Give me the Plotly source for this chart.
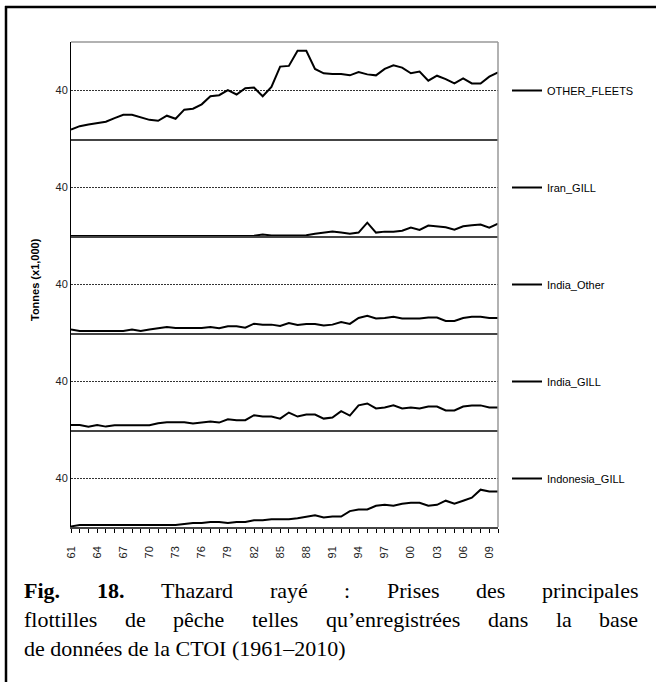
import plotly.graph_objects as go
from plotly.subplots import make_subplots

# Years on the x axis
years = list(range(1961, 2011))

# Catches (x1,000 t), one list per fleet
other_fleets = [7.8, 10.6, 12, 13.3, 14.2, 17.2, 20, 20, 18, 15.8,
                15, 19.2, 16.7, 24.2, 25, 28.6, 35.3, 36.1, 40.3, 36.7,
                41.9, 42.5, 35.3, 43, 59.7, 60.3, 72.8, 72.8, 57.8, 54.2,
                53.6, 53.6, 52.5, 55.3, 53.3, 52.5, 57.8, 60.8, 58.9, 54.2,
                55.6, 48.1, 52.2, 49.4, 45.8, 50, 45.8, 45.8, 51.4, 55]
iran_gill = [0] * 21 + [0.3, 1.2, 0.5, 0.5, 0.5, 0.6, 0.6, 1.9, 2.8, 3.6,
                        2.8, 1.9, 2.8, 11, 2.8, 3.6, 3.6, 4.4, 6.9, 5,
                        8.6, 8, 7.2, 5.2, 8, 8.8, 9.4, 6.9, 10.2]
india_other = [2.8, 1.7, 1.7, 1.7, 1.7, 1.7, 1.7, 2.8, 1.7, 2.8,
               3.9, 5, 4.1, 4.1, 4.1, 4.1, 5, 3.9, 5.5, 5.5,
               4.4, 7.7, 6.9, 6.9, 5.8, 8.3, 6.6, 7.5, 7.5, 6.1,
               6.9, 9.1, 7.5, 12.4, 14.1, 11.9, 12.4, 13.3, 11.9, 11.9,
               11.9, 12.7, 12.7, 9.9, 9.9, 12.4, 13.3, 13.3, 12.4, 12.4]
india_gill = [4.2, 4.2, 2.8, 4.2, 2.8, 3.9, 3.9, 3.9, 3.9, 3.9,
              5.6, 6.4, 6.4, 6.4, 5.3, 6.1, 6.9, 6.1, 8.9, 8.1,
              8.1, 12.2, 11.1, 11.1, 9.4, 14.4, 11.1, 12.8, 12.8, 9.4,
              10.3, 15.6, 11.9, 20.3, 21.9, 17.8, 18.6, 20.3, 17.8, 18.6,
              17.8, 19.4, 19.4, 16.1, 16.1, 19.4, 20.3, 20.3, 18.6, 18.6]
indonesia_gill = [0.5, 1.7, 1.7, 1.7, 1.7, 1.7, 1.7, 1.7, 1.7, 1.7,
                  1.7, 1.7, 1.7, 2.5, 3.3, 3.3, 4.2, 4.2, 3.3, 4.2,
                  4.2, 5.6, 5.6, 6.4, 6.4, 6.4, 7.2, 8.6, 9.7, 7.8,
                  8.6, 8.6, 13.1, 14.4, 14.4, 17.5, 18.3, 17.5, 19.2, 20,
                  20, 17.5, 18.3, 21.7, 19.2, 21.7, 24.2, 30.8, 29.2, 29.2]

fleet_names = ["OTHER_FLEETS", "Iran_GILL", "India_Other", "India_GILL", "Indonesia_GILL"]
fleet_values = [other_fleets, iran_gill, india_other, india_gill, indonesia_gill]

# x tick labels: every third year, two digits
tick_text = [str(y)[2:] if (y - 1961) % 3 == 0 else "" for y in years]

W, H = 656, 682
L, R, T, B = 71, 498, 42, 527


def px_x(px):
    return (px - L) / (R - L)


def px_y(py):
    return (B - py) / (B - T)


sans = "Arial, Liberation Sans, sans-serif"
serif = "Times New Roman, Liberation Serif, serif"

fig = make_subplots(rows=5, cols=1, shared_xaxes=True, vertical_spacing=0)

for i, (name, vals) in enumerate(zip(fleet_names, fleet_values)):
    leg = "legend" if i == 0 else f"legend{i + 1}"
    fig.add_trace(go.Scatter(x=years, y=vals, mode="lines", name=name,
                             line=dict(color="black", width=2),
                             legend=leg), row=i + 1, col=1)
    fig.update_yaxes(range=[0, 80], tickvals=[40], ticktext=["40"],
                     showgrid=True, gridcolor="#333", gridwidth=1,
                     griddash="2px,1px", zeroline=False,
                     showline=True, linecolor="black", linewidth=1,
                     ticks="", tickfont=dict(family=sans, size=11, color="#222"),
                     fixedrange=True, row=i + 1, col=1)
    fig.update_xaxes(range=[1961, 2010], showgrid=False, zeroline=False,
                     showline=True, linecolor="#444", linewidth=1.5,
                     tickvals=years, ticktext=tick_text,
                     ticks="outside" if i == 4 else "", ticklen=4,
                     tickcolor="black", tickwidth=1,
                     showticklabels=(i == 4), tickangle=-90,
                     ticklabelstandoff=9 if i == 4 else 0,
                     tickfont=dict(family=sans, size=11, color="#222"),
                     row=i + 1, col=1)

# one legend per panel, at the level of the dotted line
legends = {}
for i in range(5):
    key = "legend" if i == 0 else f"legend{i + 1}"
    legends[key] = dict(x=px_x(507), xanchor="left",
                        y=(4 - i) / 5 + 0.1, yanchor="middle",
                        bgcolor="rgba(0,0,0,0)", borderwidth=0,
                        font=dict(family=sans, size=11, color="black"),
                        itemwidth=30)

fig.update_layout(**legends)

shapes = [
    # gray frame top and right of the plot area
    dict(type="line", xref="paper", yref="paper", x0=0, x1=1, y0=1, y1=1,
         line=dict(color="#999", width=1.5)),
    dict(type="line", xref="paper", yref="paper", x0=1, x1=1, y0=0, y1=1,
         line=dict(color="#999", width=1.5)),
    # black page border, top and left
    dict(type="line", xref="paper", yref="paper", x0=px_x(5), x1=px_x(660),
         y0=px_y(7), y1=px_y(7), line=dict(color="black", width=2.5)),
    dict(type="line", xref="paper", yref="paper", x0=px_x(6), x1=px_x(6),
         y0=px_y(6), y1=px_y(690), line=dict(color="black", width=2.5)),
]

annotations = [
    dict(text="<b>Tonnes (x1,000)</b>", textangle=-90, xref="paper", yref="paper",
         x=px_x(35), y=px_y(280), xanchor="center", yanchor="middle",
         showarrow=False, font=dict(family=sans, size=11, color="black")),
]

# caption, justified: first two lines word by word, last line flush left
cap_size = 22
line1_words = ["<b>Fig.</b>", "<b>18.</b>", "Thazard", "rayé", ":", "Prises", "des", "principales"]
line1_x = [22, 95, 159, 268, 342, 385, 474, 540]
line2_words = ["flottilles", "de", "pêche", "telles", "qu’enregistrées", "dans", "la", "base"]
line2_x = [22, 123, 171, 250, 324, 486, 554, 597]
line3 = "de données de la CTOI (1961–2010)"

for words, xs, yp in [(line1_words, line1_x, 590), (line2_words, line2_x, 619)]:
    for w, xp in zip(words, xs):
        annotations.append(dict(text=w, xref="paper", yref="paper", x=px_x(xp), y=px_y(yp),
                                xanchor="left", yanchor="middle", showarrow=False,
                                font=dict(family=serif, size=cap_size, color="black")))
annotations.append(dict(text=line3, xref="paper", yref="paper", x=px_x(22), y=px_y(648),
                        xanchor="left", yanchor="middle", showarrow=False,
                        font=dict(family=serif, size=cap_size, color="black")))

fig.update_layout(width=W, height=H, margin=dict(l=L, r=W - R, t=T, b=H - B),
                  plot_bgcolor="white", paper_bgcolor="white",
                  shapes=shapes, annotations=annotations, showlegend=True)

fig.write_html("out.html", config={"displayModeBar": False},
               post_script="document.body.style.margin='0';document.body.style.overflow='hidden';")
